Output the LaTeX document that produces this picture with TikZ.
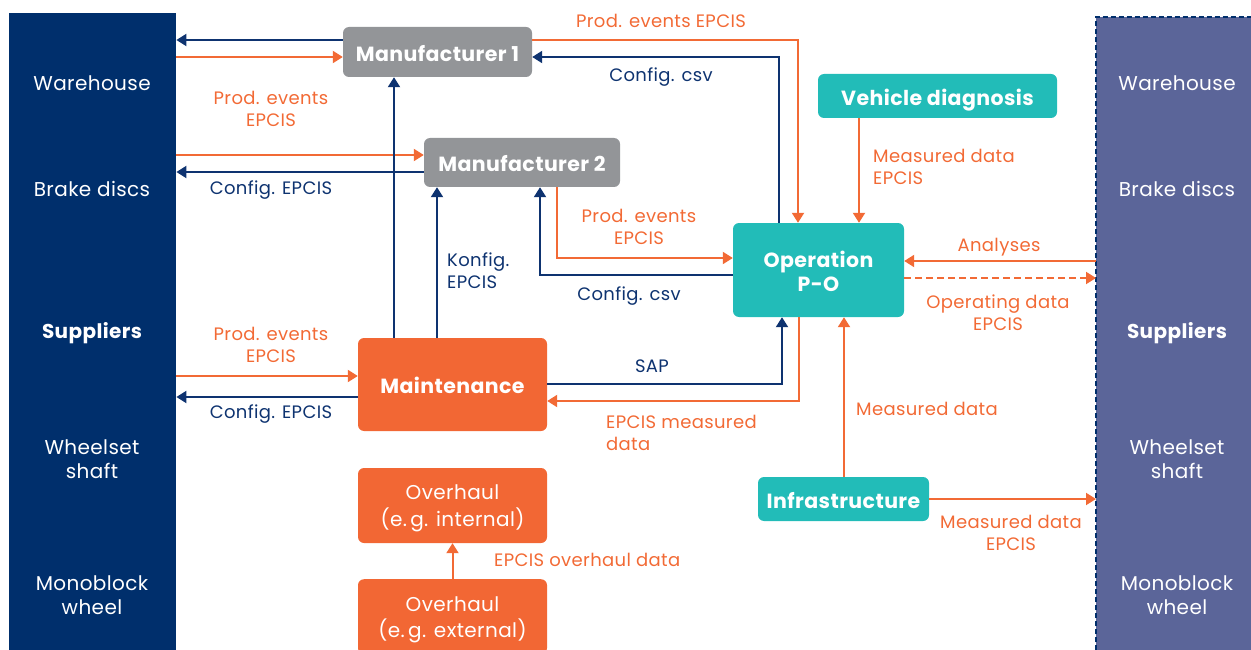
\documentclass[tikz,border=0pt]{standalone}
\usepackage{fontspec}
\setmainfont{Poppins}[LetterSpace=2]
\usetikzlibrary{arrows.meta}
\definecolor{navy}{HTML}{002F6C}
\definecolor{navyln}{HTML}{0E3370}
\definecolor{barR}{HTML}{5B6599}
\definecolor{orng}{HTML}{F26A35}
\definecolor{boxor}{HTML}{F26734}
\definecolor{grayb}{HTML}{939598}
\definecolor{teal}{HTML}{22BCB8}
\newcommand{\twolines}[2]{\begin{tabular}[b]{@{}c@{}}#1\\#2\end{tabular}}
\tikzset{
  box/.style={rounded corners=6pt, inner sep=0pt, text=white, align=center,
    font=\fontsize{20.5}{24}\selectfont\bfseries, text height=18.4pt, text depth=0pt},
  box2/.style={rounded corners=6pt, inner sep=0pt, text=white,
    font=\fontsize{20.5}{24}\selectfont\bfseries, text height=42.6pt, text depth=0pt},
  obox/.style={rounded corners=6pt, inner sep=0pt, text=white, fill=boxor,
    font=\fontsize{20}{25}\selectfont, text height=41pt, text depth=0pt},
  bartext/.style={text=white, align=center, inner sep=0pt, font=\fontsize{20}{24}\selectfont},
  lbl/.style={inner sep=0pt, align=center, font=\fontsize{18}{22}\selectfont},
  olbl/.style={lbl, text=orng},
  nlbl/.style={lbl, text=navyln},
  ln/.style={line width=2pt, -{Triangle[width=12pt,length=10pt]}},
  nv/.style={ln, draw=navyln},
  orl/.style={ln, draw=orng},
}
\begin{document}
\begin{tikzpicture}[x=1pt,y=-1pt]
\useasboundingbox (0,0) rectangle (1251,650);
% side bars
\node[fill=navy, inner sep=0pt, minimum width=167pt, minimum height=637pt, anchor=north west] (lb) at (9,13) {};
\node[fill=barR, inner sep=0pt, minimum width=155pt, minimum height=633pt, anchor=north west] (rb) at (1096,17) {};
\draw[navy, line width=2pt, dash pattern=on 5pt off 3pt] (rb.south west) -- (rb.north west) -- (rb.north east);
% bar texts
\node[bartext] (lw) at (92,83) {Warehouse};
\node[bartext] (lbd) at (92,189) {Brake discs};
\node[bartext, font=\fontsize{20}{24}\selectfont\bfseries] (ls) at (92,333) {Suppliers};
\node[bartext] (lws) at (92,459) {Wheelset\\shaft};
\node[bartext] (lmw) at (92,595) {Monoblock\\wheel};
\node[bartext] (rw) at (1177,83) {Warehouse};
\node[bartext] (rbd) at (1177,189) {Brake discs};
\node[bartext, font=\fontsize{20}{24}\selectfont\bfseries] (rs) at (1177,333) {Suppliers};
\node[bartext] (rws) at (1177,459) {Wheelset\\shaft};
\node[bartext] (rmw) at (1177,595) {Monoblock\\wheel};
% boxes
\node[box, fill=grayb, minimum width=189pt, minimum height=50pt] (m1) at (437.5,52) {Manufacturer 1};
\node[box, fill=grayb, minimum width=196pt, minimum height=49pt] (m2) at (522,162.5) {Manufacturer 2};
\node[box, fill=teal, minimum width=239pt, minimum height=44pt] (vd) at (937.5,96) {Vehicle diagnosis};
\node[box2, fill=teal, minimum width=171pt, minimum height=94pt] (op) at (818.5,270) {\twolines{Operation}{P-O}};
\node[box, fill=boxor, minimum width=189pt, minimum height=93pt] (mt) at (452.5,384.5) {Maintenance};
\node[box, fill=teal, minimum width=171pt, minimum height=44pt] (inf) at (843.5,499) {Infrastructure};
\node[obox, minimum width=189pt, minimum height=75pt] (ovi) at (452.5,505.5) {\twolines{Overhaul}{(e.\,g. internal)}};
\node[obox, minimum width=189pt, minimum height=75pt, anchor=north] (ovx) at (452.5,579) {\twolines{Overhaul}{(e.\,g. external)}};
% connectors
\draw[nv] (m1.west |- 0,40) -- (lb.east |- 0,40);
\draw[orl] (lb.east |- 0,57) -- (m1.west |- 0,57);
\draw[orl] (lb.east |- 0,155) -- (m2.west |- 0,155);
\draw[nv] (m2.west |- 0,172) -- (lb.east |- 0,172);
\draw[orl] (lb.east |- 0,376) -- (mt.west |- 0,376);
\draw[nv] (mt.west |- 0,397) -- (lb.east |- 0,397);
\draw[nv] (mt.north -| 394,0) -- (m1.south -| 394,0);
\draw[nv] (mt.north -| 437,0) -- (m2.south -| 437,0);
\draw[nv] (op.west |- 0,275) -| (m2.south -| 540,0);
\draw[orl] (m2.south -| 557,0) |- (op.west |- 0,258);
\draw[orl] (m1.east |- 0,40) -| (op.north -| 798,0);
\draw[nv] (op.north -| 779,0) |- (m1.east |- 0,57);
\draw[orl] (vd.south -| 859,0) -- (op.north -| 859,0);
\draw[orl] (rb.west |- 0,261) -- (op.east |- 0,261);
\draw[orl, dash pattern=on 7pt off 4pt] (op.east |- 0,278) -- (rb.west |- 0,278);
\draw[nv] (mt.east |- 0,384) -| (op.south -| 782,0);
\draw[orl] (op.south -| 799,0) |- (mt.east |- 0,401);
\draw[orl] (inf.north -| 844,0) -- (op.south -| 844,0);
\draw[orl] (inf.east) -- (rb.west |- inf.east);
\draw[orl] (ovx.north) -- (ovi.south);
% labels
\node[olbl] (t1) at (271,109) {Prod. events\\EPCIS};
\node[nlbl] (t2) at (271,190) {Config. EPCIS};
\node[olbl] (t3) at (271,345) {Prod. events\\EPCIS};
\node[nlbl] (t4) at (271,414) {Config. EPCIS};
\node[olbl] (t5) at (661,21) {Prod. events EPCIS};
\node[nlbl] (t6) at (661,77) {Config. csv};
\node[nlbl, align=left, anchor=west] (t7) at (447,271) {Konfig.\\EPCIS};
\node[olbl] (t8) at (639,227) {Prod. events\\EPCIS};
\node[nlbl] (t9) at (629,296) {Config. csv};
\node[olbl, align=left, anchor=west] (t10) at (873,167) {Measured data\\EPCIS};
\node[olbl] (t11) at (999,247) {Analyses};
\node[olbl] (t12) at (998,313) {Operating data\\EPCIS};
\node[nlbl] (t13) at (652,366) {SAP};
\node[olbl, align=left, anchor=west] (t14) at (606,433) {EPCIS measured\\data};
\node[olbl] (t15) at (927,409) {Measured data};
\node[olbl] (t16) at (1011,533) {Measured data\\EPCIS};
\node[olbl, anchor=west] (t17) at (494,560) {EPCIS overhaul data};
\end{tikzpicture}
\end{document}
